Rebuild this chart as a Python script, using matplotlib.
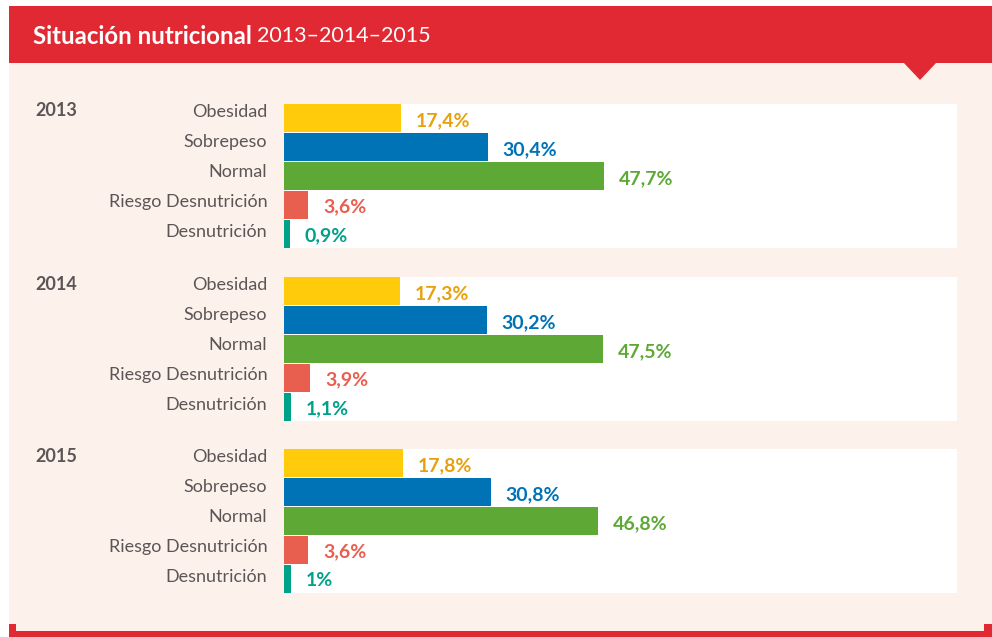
import matplotlib
matplotlib.use("Agg")
from matplotlib import pyplot as plt
from matplotlib.patches import Rectangle, Polygon

# data
years = ["2013", "2014", "2015"]
categories = ["Obesidad", "Sobrepeso", "Normal", "Riesgo Desnutrición", "Desnutrición"]
values_2013 = [17.4, 30.4, 47.7, 3.6, 0.9]
values_2014 = [17.3, 30.2, 47.5, 3.9, 1.1]
values_2015 = [17.8, 30.8, 46.8, 3.6, 1.0]
labels_2013 = ["17,4%", "30,4%", "47,7%", "3,6%", "0,9%"]
labels_2014 = ["17,3%", "30,2%", "47,5%", "3,9%", "1,1%"]
labels_2015 = ["17,8%", "30,8%", "46,8%", "3,6%", "1%"]

bar_colors = ["#FFCB0A", "#0072B6", "#5EA836", "#E85F4F", "#00A189"]
text_colors = ["#E8A00C", "#0072B6", "#5EA836", "#E85F4F", "#00A189"]
red = "#E02932"
pink = "#FDF1EC"
gray = "#5B5655"

plt.rcParams["font.family"] = ["Lato", "DejaVu Sans"]

W, H = 992, 637
fig = plt.figure(figsize=(W / 100, H / 100), dpi=100, facecolor="white")


def fx(x):
    return x / W


def fy(y):
    return 1 - y / H


def rect(x0, y0, x1, y1, color):
    fig.add_artist(Rectangle((fx(x0), fy(y1)), fx(x1) - fx(x0), fy(y0) - fy(y1),
                             transform=fig.transFigure, facecolor=color, edgecolor="none", zorder=0))


# background, header, bottom line
rect(9, 63, W, 632, pink)
rect(9, 6, W, 63, red)
fig.add_artist(Polygon([(fx(903), fy(62)), (fx(937), fy(62)), (fx(920), fy(80))],
                       closed=True, transform=fig.transFigure, facecolor=red, edgecolor="none", zorder=1))
rect(9, 631, W, H, red)
rect(9, 624, 16, 632, red)
rect(984, 624, W, 632, red)

fig.text(fx(33), fy(36), "Situación nutricional", color="white", fontsize=17.3,
         fontweight="bold", va="center", ha="left")
fig.text(fx(257), fy(36), "2013–2014–2015", color="white", fontsize=15.5,
         va="center", ha="left")

panel_tops = [104, 277, 449]
all_values = [values_2013, values_2014, values_2015]
all_labels = [labels_2013, labels_2014, labels_2015]

for year, top, vals, labs in zip(years, panel_tops, all_values, all_labels):
    ax = fig.add_axes([fx(284), fy(top + 144), fx(957) - fx(284), 144 / H])
    ax.set_facecolor("white")
    pos = list(range(len(categories)))
    ax.barh(pos, vals, height=0.97, color=bar_colors)
    for p, v, lab, c in zip(pos, vals, labs, text_colors):
        ax.text(v + 2.2, p + 0.08, lab, color=c, fontsize=14, fontweight="bold",
                va="center", ha="left")
    ax.set_xlim(0, 100.3)
    ax.set_ylim(4.5, -0.5)
    # labels sit a little above the bar centres
    ax.set_yticks([p * 1.045 - 0.29 for p in pos])
    ax.set_yticklabels(categories, fontsize=13, color=gray)
    ax.tick_params(axis="y", length=0, pad=12)
    ax.set_xticks([])
    for s in ax.spines.values():
        s.set_visible(False)
    fig.text(fx(35), fy(top + 7), year, color=gray, fontsize=13, fontweight="bold",
             va="center", ha="left")

fig.savefig("out.png", dpi=100, facecolor="white")
